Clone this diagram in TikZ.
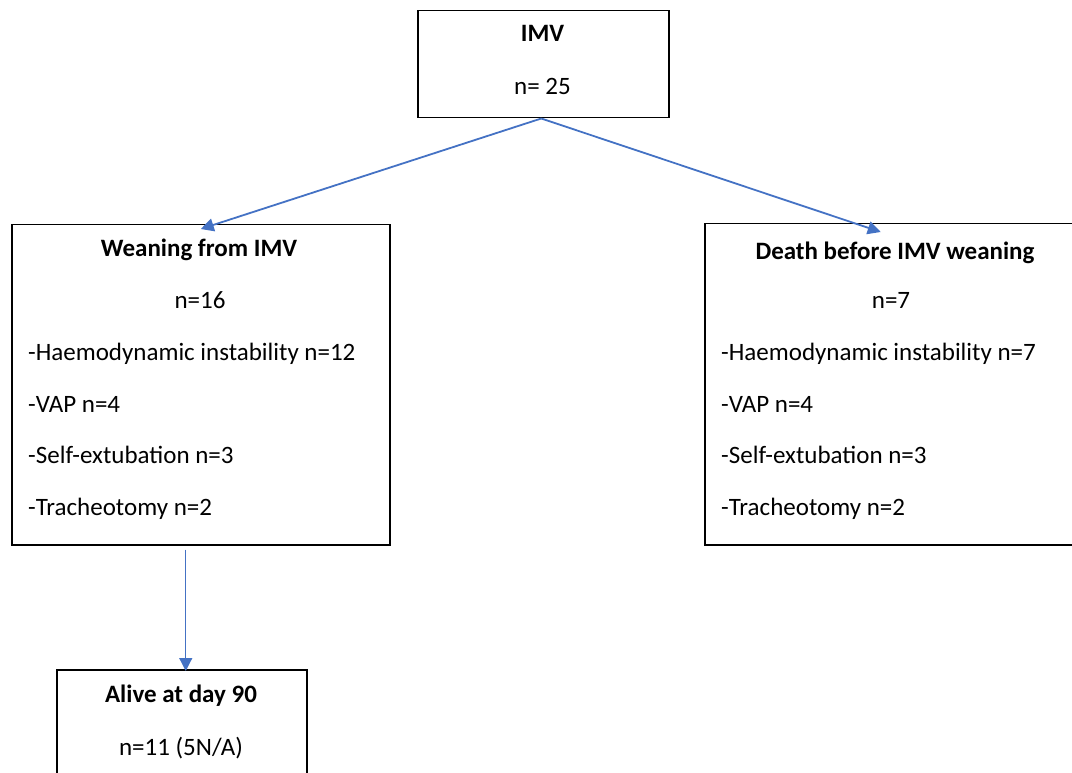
\documentclass[tikz,border=0pt]{standalone}
\usepackage{fontspec}
\setmainfont{Carlito}
\usetikzlibrary{arrows.meta,calc}
\definecolor{arrowblue}{HTML}{4472C4}
\begin{document}
\begin{tikzpicture}[x=1pt,y=-1pt,
  box/.style={draw=black,line width=1.5pt,rectangle,anchor=north west,inner sep=0pt},
  txt/.style={anchor=base,inner sep=0pt,font=\fontsize{25}{29}\selectfont},
  ltxt/.style={anchor=base west,inner sep=0pt,font=\fontsize{25}{29}\selectfont},
  ttl/.style={anchor=base,inner sep=0pt,font=\fontsize{25}{29}\selectfont\bfseries},
  conn/.style={draw=arrowblue,line width=1.8pt,-{Triangle[length=13pt,width=13pt]}}]
\useasboundingbox (0,0) rectangle (1072,773);
% boxes
\node[box,minimum width=251pt,minimum height=107pt] (imv) at (417,10) {};
\node[box,minimum width=378pt,minimum height=320pt] (wean) at (11,224) {};
\node[box,minimum width=390pt,minimum height=321pt] (death) at (704,223) {};
\node[box,minimum width=250pt,minimum height=130pt] (alive) at (56,669) {};
% IMV texts
\node[ttl] (imvt) at (542.5,42) {IMV};
\node[txt] (imvn) at (542.5,95) {n= 25};
% Weaning texts
\node[ttl] (weant) at (199,257) {Weaning from IMV};
\node[txt] (weann) at (200,308) {n=16};
\node[ltxt] (w1) at (28,360) {-Haemodynamic instability n=12};
\node[ltxt] (w2) at (28,412) {-VAP n=4};
\node[ltxt] (w3) at (28,463) {-Self-extubation n=3};
\node[ltxt] (w4) at (28,515) {-Tracheotomy n=2};
% Death texts
\node[ttl] (deatht) at (895,259) {Death before IMV weaning};
\node[txt] (deathn) at (891,308) {n=7};
\node[ltxt] (d1) at (721,360) {-Haemodynamic instability n=7};
\node[ltxt] (d2) at (721,412) {-VAP n=4};
\node[ltxt] (d3) at (721,463) {-Self-extubation n=3};
\node[ltxt] (d4) at (721,515) {-Tracheotomy n=2};
% Alive texts
\node[ttl] (alivet) at (181,702) {Alive at day 90};
\node[txt] (aliven) at (181,755) {n=11 (5N/A)};
% connectors
\draw[conn] ([xshift=-2pt]imv.south) -- ([yshift=-5pt]wean.north);
\draw[conn] ([xshift=-2pt]imv.south) -- ([xshift=-19pt,yshift=-9pt]death.north);
\draw[conn,line width=1.2pt] ([xshift=-15pt,yshift=-4pt]wean.south) -- ([xshift=4pt,yshift=-2pt]alive.north);
\end{tikzpicture}
\end{document}
